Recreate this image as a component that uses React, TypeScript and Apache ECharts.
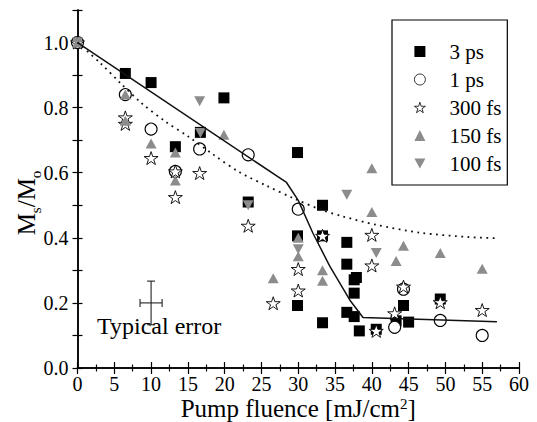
import React, { useEffect, useRef } from 'react';
import * as echarts from 'echarts';

const FONT = "'Liberation Serif', 'Times New Roman', serif";
const GRAY = '#8c8c8c';

const seriesNames = ['3 ps', '1 ps', '300 fs', '150 fs', '100 fs'];

const ps3: number[][] = [
  [6.5, 0.905], [10, 0.877], [13.3, 0.68], [16.7, 0.724], [19.9, 0.83], [23.2, 0.51],
  [29.9, 0.662], [29.9, 0.406], [29.9, 0.192], [33.3, 0.5], [33.3, 0.406], [33.3, 0.139],
  [36.6, 0.386], [36.6, 0.319], [36.6, 0.171], [37.6, 0.271], [37.9, 0.278], [37.6, 0.23],
  [37.6, 0.158], [38.3, 0.114], [40.6, 0.119], [43.3, 0.145], [44.3, 0.192], [45, 0.141],
  [49.3, 0.212],
];
const ps1: number[][] = [
  [0, 1.0], [6.5, 0.84], [10, 0.734], [13.3, 0.604], [16.6, 0.673], [23.2, 0.655],
  [30, 0.488], [43.1, 0.125], [44.3, 0.242], [49.3, 0.146], [55, 0.1],
];
const fs300: number[][] = [
  [0, 1.0], [6.5, 0.77], [6.5, 0.75], [10, 0.645], [13.3, 0.604], [13.3, 0.525],
  [16.6, 0.599], [23.2, 0.437], [26.6, 0.199], [30, 0.304], [30, 0.238], [33.3, 0.406],
  [40, 0.409], [40, 0.315], [40.6, 0.114], [43.1, 0.168], [44.3, 0.25], [49.3, 0.202],
  [55, 0.178],
];
const fs150: number[][] = [
  [0, 1.0], [6.5, 0.84], [6.5, 0.76], [10, 0.69], [13.3, 0.662], [13.3, 0.576],
  [19.9, 0.717], [26.6, 0.276], [30, 0.4], [30, 0.343], [33.3, 0.3], [33.3, 0.268],
  [40, 0.614], [40, 0.479], [43.3, 0.329], [44.3, 0.376], [49.3, 0.353], [55, 0.305],
];
const fs100: number[][] = [
  [0, 1.0], [16.6, 0.82], [16.7, 0.722], [23.2, 0.5], [30, 0.365], [36.6, 0.532], [40.6, 0.353],
];

const fitSolid: number[][] = [
  [0, 1.0], [28.4, 0.57], [30, 0.515], [32, 0.414], [34.3, 0.312], [37, 0.209],
  [38.8, 0.155], [57, 0.142],
];
const fitDotted: number[][] = [
  [0, 1.0], [3.1, 0.937], [5.8, 0.876], [8.7, 0.814], [11.9, 0.758], [15, 0.712],
  [18.5, 0.655], [22, 0.602], [25.7, 0.56], [29.3, 0.522], [32.9, 0.488], [36, 0.466],
  [40.6, 0.44], [46.5, 0.416], [53.3, 0.402], [57, 0.399],
];

// [x, y, xErr, yErr]
const errorBar: number[][] = [[10, 0.2, 1.5, 0.067]];

const STAR =
  'path://M100,0 L122.45,69.1 L195.1,69.1 L136.3,111.8 L158.8,180.9 L100,138.2 L41.2,180.9 L63.7,111.8 L4.9,69.1 L77.55,69.1 Z';
const DOWN_TRI = 'path://M0,0 L100,0 L50,90 Z';

export default function App() {
  const ref = useRef<HTMLDivElement>(null);
  useEffect(() => {
    document.body.style.margin = '0';
    const chart = echarts.init(ref.current!, null, { renderer: 'svg' });
    const axisLine = { show: true, lineStyle: { color: '#000', width: 1.5 } };
    const xCommon = {
      type: 'value',
      min: 0,
      max: 60,
      interval: 5,
      axisLine,
      splitLine: { show: false },
      axisTick: { show: true, inside: true, length: 6, lineStyle: { color: '#000', width: 1.2 } },
      minorTick: { show: true, splitNumber: 2, length: 3.5, lineStyle: { color: '#000', width: 1.2 } },
      minorSplitLine: { show: false },
    };
    const yCommon = {
      type: 'value',
      min: 0,
      max: 1.1,
      interval: 0.1,
      axisLine,
      splitLine: { show: false },
      axisTick: { show: true, inside: true, length: 5, lineStyle: { color: '#000', width: 1.2 } },
    };
    const scatterBase = { type: 'scatter', xAxisIndex: 0, yAxisIndex: 0 };
    chart.setOption({
      animation: false,
      grid: { left: 77.5, right: 18, top: 10, bottom: 54, outerBoundsMode: 'none' },
      xAxis: [
        {
          ...xCommon,
          position: 'bottom',
          axisLabel: { color: '#000', fontFamily: FONT, fontSize: 20, lineHeight: 16, margin: 8 },
          name: 'Pump fluence [mJ/cm{sup|2}]',
          nameLocation: 'middle',
          nameGap: 28,
          nameMoveOverlap: false,
          nameTextStyle: {
            color: '#000',
            fontFamily: FONT,
            fontSize: 25,
            lineHeight: 25,
            rich: { sup: { fontSize: 15, fontFamily: FONT, color: '#000', verticalAlign: 'top', lineHeight: 19 } },
          },
        },
        { ...xCommon, position: 'top', axisLabel: { show: false } },
      ],
      yAxis: [
        {
          ...yCommon,
          position: 'left',
          axisLabel: {
            color: '#000',
            fontFamily: FONT,
            fontSize: 20,
            margin: 9,
            formatter: (v: number) => {
              const k = Math.round(v * 10);
              return k % 2 === 0 && k <= 10 ? v.toFixed(1) : '';
            },
          },
        },
        { ...yCommon, position: 'right', axisLabel: { show: false } },
      ],
      legend: {
        data: seriesNames,
        orient: 'vertical',
        left: 392,
        top: 20,
        padding: [21, 6, 11, 22],
        itemGap: 7,
        itemWidth: 11,
        itemHeight: 11,
        borderColor: '#000',
        borderWidth: 1.2,
        backgroundColor: '#fff',
        itemStyle: { borderWidth: 0.8 },
        textStyle: { color: '#000', fontFamily: FONT, fontSize: 21, lineHeight: 20, padding: [0, 0, 0, 19] },
      },
      graphic: [
        {
          type: 'text',
          x: 26,
          y: 203,
          rotation: Math.PI / 2,
          style: {
            text: 'M{sub|s}/M{sub|o}',
            fontFamily: FONT,
            fontSize: 25,
            lineHeight: 30,
            fill: '#000',
            align: 'center',
            verticalAlign: 'middle',
            rich: { sub: { fontSize: 15, fontFamily: FONT, fill: '#000', verticalAlign: 'bottom', lineHeight: 34 } },
          },
        },
        {
          type: 'text',
          x: 97,
          y: 314,
          style: { text: 'Typical error', fontFamily: FONT, fontSize: 24, fill: '#000', verticalAlign: 'top' },
        },
      ],
      series: [
        {
          ...scatterBase,
          name: '3 ps',
          data: ps3,
          symbol: 'rect',
          symbolSize: 11,
          itemStyle: { color: '#000', opacity: 1 },
        },
        {
          ...scatterBase,
          name: '1 ps',
          data: ps1,
          symbol: 'circle',
          symbolSize: 12,
          itemStyle: { color: '#fff', borderColor: '#000', borderWidth: 1.1, opacity: 1 },
        },
        {
          ...scatterBase,
          name: '300 fs',
          data: fs300,
          symbol: STAR,
          symbolSize: [14, 13],
          itemStyle: { color: '#fff', borderColor: '#000', borderWidth: 0.9, opacity: 1 },
        },
        {
          ...scatterBase,
          name: '150 fs',
          data: fs150,
          symbol: 'triangle',
          symbolSize: [11, 10],
          itemStyle: { color: GRAY, opacity: 1 },
        },
        {
          ...scatterBase,
          name: '100 fs',
          data: fs100,
          symbol: DOWN_TRI,
          symbolSize: [11, 10],
          itemStyle: { color: GRAY, opacity: 1 },
        },
        {
          type: 'line',
          name: 'fit solid',
          data: fitSolid,
          symbol: 'none',
          z: 3,
          lineStyle: { color: '#111', width: 1.5 },
        },
        {
          type: 'line',
          name: 'fit dotted',
          data: fitDotted,
          symbol: 'none',
          smooth: 0.3,
          z: 3,
          lineStyle: { color: '#111', width: 1.8, type: [1.8, 4.5] },
        },
        {
          type: 'custom',
          name: 'error',
          data: errorBar,
          renderItem: (_p: any, api: any) => {
            const x = api.value(0);
            const y = api.value(1);
            const dx = api.value(2);
            const dy = api.value(3);
            const l = api.coord([x - dx, y]);
            const r = api.coord([x + dx, y]);
            const t = api.coord([x, y + dy]);
            const b = api.coord([x, y - dy]);
            const cap = 4;
            const style = { stroke: '#222', lineWidth: 1.1 };
            const mk = (x1: number, y1: number, x2: number, y2: number) => ({
              type: 'line',
              shape: { x1, y1, x2, y2 },
              style,
            });
            return {
              type: 'group',
              children: [
                mk(l[0], l[1], r[0], r[1]),
                mk(t[0], t[1], b[0], b[1]),
                mk(l[0], l[1] - cap, l[0], l[1] + cap),
                mk(r[0], r[1] - cap, r[0], r[1] + cap),
                mk(t[0] - cap, t[1], t[0] + cap, t[1]),
                mk(b[0] - cap, b[1], b[0] + cap, b[1]),
              ],
            };
          },
        },
      ],
    });
    return () => chart.dispose();
  }, []);
  return <div ref={ref} style={{ width: 537, height: 422 }} />;
}
